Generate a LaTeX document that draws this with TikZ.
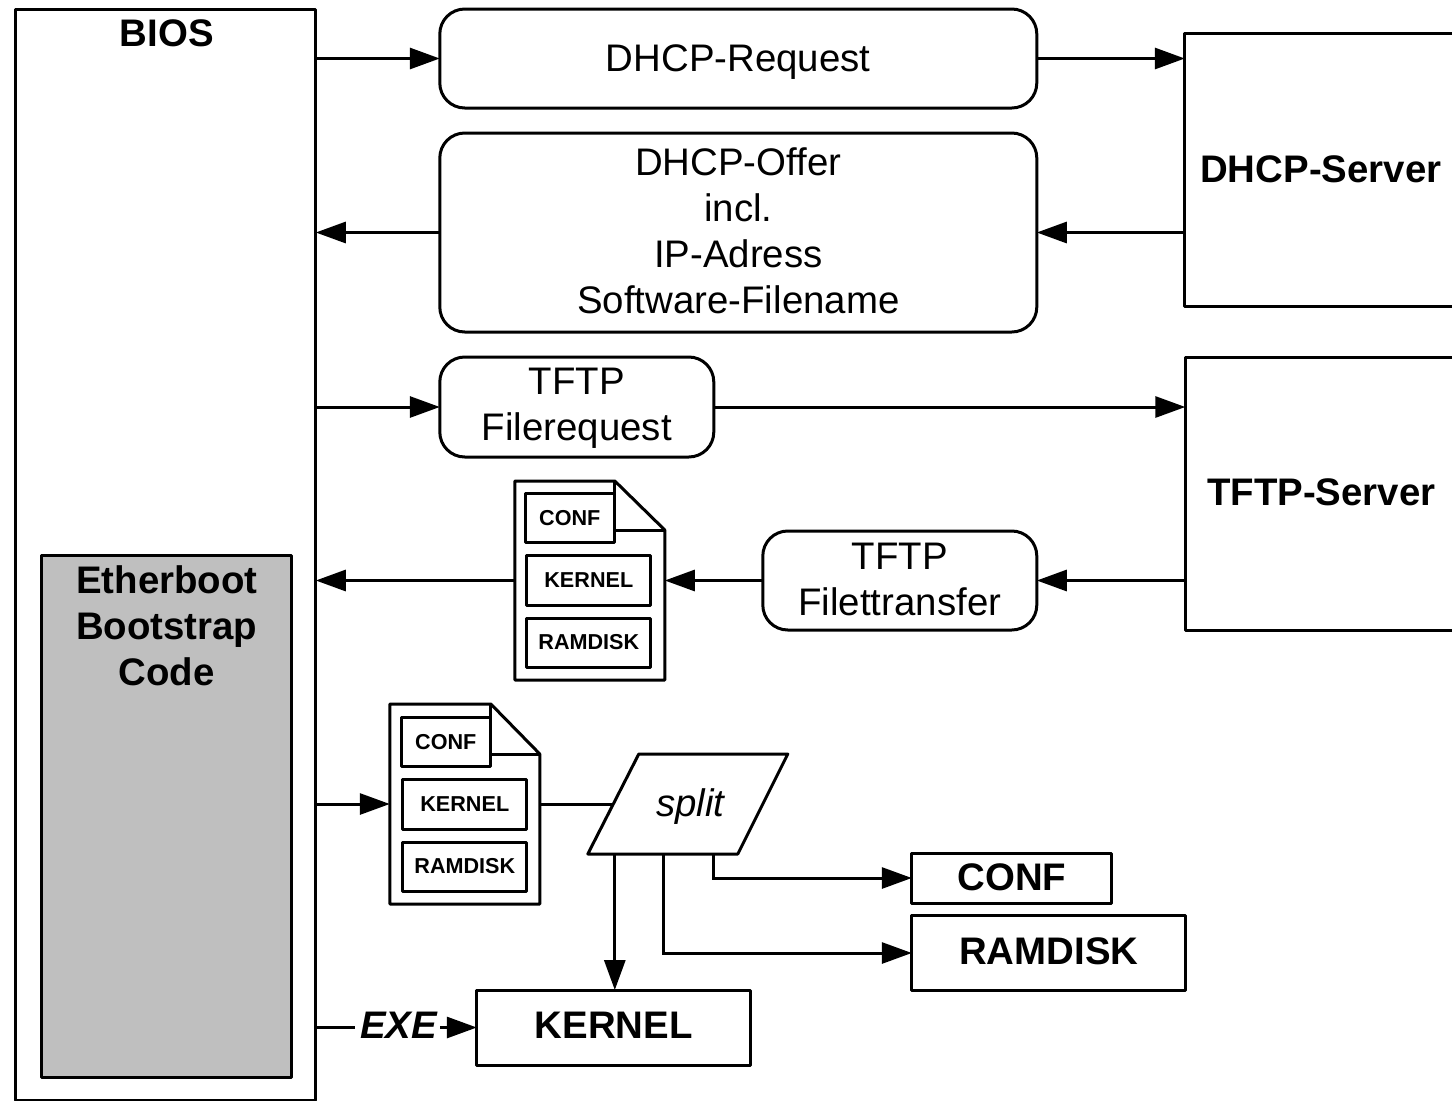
\documentclass[tikz,border=0pt]{standalone}
\usepackage{fontspec}
\setmainfont{Liberation Sans}
\usetikzlibrary{arrows.meta}
\tikzset{
  x=1pt,y=-1pt,
  every node/.style={inner sep=0pt,outer sep=0pt,align=center,text=black},
  bigtext/.style={font=\fontsize{38.4}{46}\selectfont},
  boldtext/.style={font=\fontsize{38.4}{46}\selectfont\bfseries},
  smalltext/.style={font=\fontsize{21.6}{26}\selectfont\bfseries},
  box/.style={draw=black,line width=3pt,rectangle,line join=round},
  roundbox/.style={box,rounded corners=25pt,bigtext},
  boldbox/.style={box,boldtext},
  smallbox/.style={box,smalltext},
  conn/.style={line width=3pt,draw=black,line join=miter},
  arrow/.style={conn,-{Triangle[length=30pt,width=21pt]}},
  outline/.style={draw=black,line width=3pt,line join=round},
}
\begin{document}
\begin{tikzpicture}
\useasboundingbox (0,0) rectangle (1452,1101);
\clip (0,0) rectangle (1452,1101);
\begin{scope}[xshift=-0.2pt,yshift=0pt]

% BIOS
\node[box,minimum width=300pt,minimum height=1091pt] (bios) at (166,554.5) {};
\node[boldtext] (biostxt) at (167,33) {BIOS};
\node[box,fill=black!25,minimum width=250pt,minimum height=522pt] (eb) at (167,816) {};
\node[boldtext,anchor=north] (ebtxt) at (167,566) {Etherboot\\Bootstrap\\Code};

% Messages
\node[roundbox,text depth=0pt,minimum width=597pt,minimum height=99pt] (req) at (738.5,58.5) {DHCP-Request};
\node[roundbox,text depth=4pt,minimum width=597pt,minimum height=199pt] (offer) at (738.5,232.5) {DHCP-Offer\\incl.\\IP-Adress\\Software-Filename};
\node[roundbox,text depth=5pt,minimum width=274pt,minimum height=100pt] (ffreq) at (577,407) {TFTP\\Filerequest};
\node[roundbox,text depth=2pt,minimum width=274pt,minimum height=99pt] (fxfer) at (900,580.5) {TFTP\\Filettransfer};

% Servers
\node[boldbox,minimum width=272pt,minimum height=273pt] (dhcps) at (1321,169.5) {DHCP-Server};
\node[boldbox,text depth=2pt,minimum width=272pt,minimum height=273pt] (tftps) at (1321.5,493.5) {TFTP-Server};

% File icon 1
\node[minimum width=150pt,minimum height=199pt] (doca) at (590,580.5) {};
\draw[outline] (doca.north west) -- (615,481) -- (doca.east |- 0,530) -- (doca.south east) -- (doca.south west) -- cycle;
\draw[outline] (615,481) -- (615,530) -- (doca.east |- 0,530);
\node[smallbox,fill=white,minimum width=89pt,minimum height=49pt] (confa) at (570,518) {CONF};
\node[smallbox,minimum width=124pt,minimum height=50pt] (kerna) at (589,580) {KERNEL};
\node[smallbox,minimum width=124pt,minimum height=49pt] (rama) at (589,642.5) {RAMDISK};

% File icon 2
\node[minimum width=150pt,minimum height=200pt] (docb) at (465,804) {};
\draw[outline] (docb.north west) -- (491,704) -- (docb.east |- 0,754) -- (docb.south east) -- (docb.south west) -- cycle;
\draw[outline] (491,704) -- (491,754) -- (docb.east |- 0,754);
\node[smallbox,fill=white,minimum width=89pt,minimum height=49pt] (confb) at (446,742) {CONF};
\node[smallbox,minimum width=124pt,minimum height=50pt] (kernb) at (465,804) {KERNEL};
\node[smallbox,minimum width=124pt,minimum height=49pt] (ramb) at (465,866.5) {RAMDISK};

% split
\coordinate (sA) at (588,854);
\coordinate (sB) at (639,754);
\coordinate (sC) at (788,754);
\coordinate (sD) at (738,854);
\draw[outline] (sA) -- (sB) -- (sC) -- (sD) -- cycle;
\node[bigtext,font=\fontsize{38.4}{46}\selectfont\itshape] (split) at (690.5,807) {split};
\coordinate (sL) at (613,804);
\coordinate (s1) at (615,854);
\coordinate (s2) at (664,854);
\coordinate (s3) at (714,854);

% Results
\node[boldbox,text depth=2pt,minimum width=200pt,minimum height=50pt] (conf) at (1012,878) {CONF};
\node[boldbox,text depth=4pt,minimum width=274pt,minimum height=75pt] (ram) at (1049,953) {RAMDISK};
\node[boldbox,text depth=4pt,minimum width=274pt,minimum height=75pt] (kern) at (614,1027.5) {KERNEL};
\node[font=\fontsize{38.4}{46}\selectfont\bfseries\itshape] (exe) at (399,1025) {EXE};

% Connectors
\draw[arrow] (bios.east |- req.west) -- (req.west);
\draw[arrow] (req.east) -- (dhcps.west |- req.east);
\draw[arrow] (dhcps.west |- offer.east) -- (offer.east);
\draw[arrow] (offer.west) -- (bios.east |- offer.west);
\draw[arrow] (bios.east |- ffreq.west) -- (ffreq.west);
\draw[arrow] (ffreq.east) -- (tftps.west |- ffreq.east);
\draw[arrow] (tftps.west |- fxfer.east) -- (fxfer.east);
\draw[arrow] (fxfer.west) -- (doca.east |- fxfer.west);
\draw[arrow] (doca.west) -- (bios.east |- doca.west);
\draw[arrow] (bios.east |- docb.west) -- (docb.west);
\draw[conn] (docb.east) -- (sL);
\draw[arrow] (s1) -- (s1 |- kern.north);
\draw[arrow] (s2) |- (ram.west);
\draw[arrow] (s3) |- (conf.west);
\draw[conn] (bios.east |- kern.west) -- ([xshift=-5pt]exe.west |- kern.west);
\draw[arrow] ([xshift=3pt]exe.east |- kern.west) -- (kern.west);
\end{scope}
\end{tikzpicture}
\end{document}
